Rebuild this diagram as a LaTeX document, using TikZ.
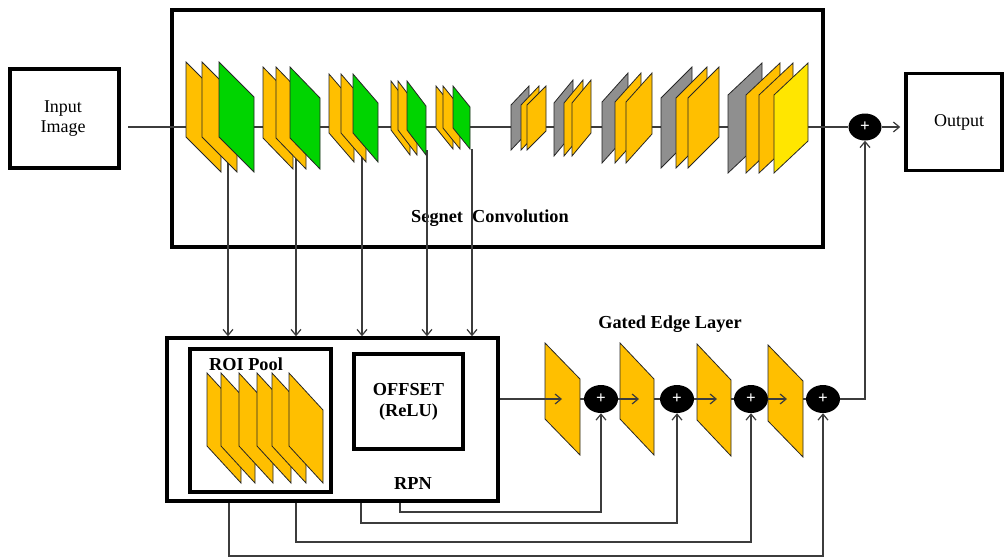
\documentclass[tikz,border=0pt]{standalone}
\usepackage{fontspec}
\setmainfont{Liberation Serif}
\usetikzlibrary{arrows.meta,shapes.geometric}
\definecolor{lorange}{HTML}{FFBF00}
\definecolor{lgreen}{HTML}{00D400}
\definecolor{lgray}{HTML}{8F8F8F}
\definecolor{lyellow}{HTML}{FFE600}
\definecolor{conncol}{HTML}{3C3C3C}
% encoder-style plane: top-left (x,y), width, height, drop
\newcommand{\encplane}[6]{\filldraw[plane,fill=#1] (#2,#3) -- ++(0,#5) -- ++(#4,#6) -- ++(0,-#5) -- cycle;}
% decoder-style plane: bottom-left (x,y), width, height, rise
\newcommand{\decplane}[6]{\filldraw[plane,fill=#1] (#2,#3) -- ++(0,-#5) -- ++(#4,-#6) -- ++(0,#5) -- cycle;}
\begin{document}
\begin{tikzpicture}[x=1pt,y=-1pt,
  box/.style={draw=black,line width=3.5pt,inner sep=0pt},
  plane/.style={draw=black!85,line width=0.8pt},
  conn/.style={draw=conncol,line width=1.2pt},
  arr/.style={conn,-{Straight Barb[length=6pt,width=10pt]}},
  plus/.style={ellipse,fill=black,text=white,inner sep=0pt,minimum width=34pt,minimum height=28pt,font=\fontsize{17}{17}\selectfont\bfseries},
  lab/.style={font=\fontsize{18}{20}\selectfont,inner sep=0pt},
  blab/.style={font=\fontsize{18.3}{21}\selectfont\bfseries,inner sep=0pt}
]
\useasboundingbox (0,0) rectangle (1006,558);

% ---- boxes and labels ----
\node[box,minimum width=109pt,minimum height=99pt] (in) at (64.5,118.5) {};
\node[lab,align=center] (intext) at (63,119) {Input\\Image};
\node[box,minimum width=651pt,minimum height=237pt] (seg) at (497.5,128.5) {};
\node[blab] (segtext) at (490,218) {Segnet\ \ Convolution};
\node[box,minimum width=96pt,minimum height=97pt] (out) at (954,121.75) {};
\node[lab] (outtext) at (959,122) {Output};
\node[plus,minimum width=33pt,minimum height=27pt] (cm) at (865,127) {+};

\node[box,minimum width=331pt,minimum height=163pt] (rpn) at (332.5,419.5) {};
\node[blab] (rpntext) at (413,483) {RPN};
\node[box,minimum width=141pt,minimum height=143pt] (roi) at (260.5,420.5) {};
\node[blab] (roitext) at (246,364) {ROI Pool};
\node[box,minimum width=109pt,minimum height=95pt] (off) at (408.5,401.5) {};
\node[blab,align=center] (offtext) at (408.5,402) {OFFSET\\(ReLU)};
\node[blab] (gatetext) at (670,324) {Gated Edge Layer};

\node[plus] (c1) at (601,399) {+};
\node[plus] (c2) at (677,399) {+};
\node[plus] (c3) at (751,399) {+};
\node[plus] (c4) at (823,399) {+};

% ---- main line ----
\coordinate (l0) at (128,127);
\draw[conn] (l0) -- (cm.west);
\draw[arr,shorten >=4pt] (cm.east) -- (out.west |- cm);

% ---- drop lines from encoder to RPN ----
\coordinate (d1) at (228,150);
\coordinate (d2) at (296,150);
\coordinate (d3) at (362,145);
\coordinate (d4) at (427,150);
\coordinate (d5) at (472,149);
\foreach \d in {d1,d2,d3,d4,d5}{\draw[arr] (\d) -- (\d |- rpn.north);}

% ---- encoder planes ----
\encplane{lorange}{186}{62}{35}{75}{35}
\encplane{lorange}{202}{62}{35}{75}{35}
\encplane{lgreen}{219}{62}{35}{75}{35}
\encplane{lorange}{263}{67}{30}{71}{31}
\encplane{lorange}{276}{67}{30}{71}{31}
\encplane{lgreen}{290}{67}{30}{71}{31}
\encplane{lorange}{329}{74}{25}{59}{29}
\encplane{lorange}{341}{74}{25}{59}{29}
\encplane{lgreen}{353}{74}{25}{59}{29}
\encplane{lorange}{391}{81}{19}{49}{25}
\encplane{lorange}{398}{81}{19}{49}{25}
\encplane{lgreen}{407}{81}{19}{49}{25}
\encplane{lorange}{436}{86}{17}{42}{21}
\encplane{lorange}{443}{86}{17}{42}{21}
\encplane{lgreen}{453}{86}{17}{42}{21}

% ---- decoder planes ----
\decplane{lgray}{511}{150}{18}{45}{19}
\decplane{lorange}{521}{150}{18}{45}{19}
\decplane{lorange}{527}{150}{19}{45}{19}
\decplane{lgray}{554}{156}{19}{53}{23}
\decplane{lorange}{564}{156}{19}{53}{23}
\decplane{lorange}{572}{156}{19}{53}{23}
\decplane{lgray}{602}{163}{26}{61}{29}
\decplane{lorange}{615}{163}{26}{61}{29}
\decplane{lorange}{626}{163}{26}{61}{29}
\decplane{lgray}{661}{168}{31}{70}{31}
\decplane{lorange}{676}{168}{31}{70}{31}
\decplane{lorange}{688}{168}{31}{70}{31}
\decplane{lgray}{728}{173}{34}{78}{32}
\decplane{lorange}{746}{173}{34}{78}{32}
\decplane{lorange}{759}{173}{34}{78}{32}
\decplane{lyellow}{774}{173}{34}{78}{32}

% ---- ROI pool planes ----
\foreach \x in {207,221,239,257,272,289}{\encplane{lorange}{\x}{373}{34}{73}{37}}

% ---- gated edge planes ----
\encplane{lorange}{545}{343}{35}{76}{36}
\encplane{lorange}{620}{343}{34}{76}{36}
\encplane{lorange}{697}{344}{34}{76}{36}
\encplane{lorange}{768}{345}{35}{76}{36}

% ---- gated connectors ----
\coordinate (g1in) at (562,399);
\coordinate (g1out) at (580,399);
\coordinate (g2in) at (639,399);
\coordinate (g2out) at (654,399);
\coordinate (g3in) at (717,399);
\coordinate (g3out) at (731,399);
\coordinate (g4in) at (787,399);
\coordinate (g4out) at (803,399);
\draw[arr] (rpn.east |- c1) -- (g1in);
\draw[conn] (g1out) -- (c1.west);
\draw[arr] (c1.east) -- (g2in);
\draw[conn] (g2out) -- (c2.west);
\draw[arr] (c2.east) -- (g3in);
\draw[conn] (g3out) -- (c3.west);
\draw[arr] (c3.east) -- (g4in);
\draw[conn] (g4out) -- (c4.west);
\draw[arr] (c4.east) -| (cm.south);

% ---- skip lines under RPN ----
\coordinate (b1) at (229,0);
\coordinate (b2) at (296,0);
\coordinate (b3) at (361,0);
\coordinate (b4) at (400,0);
\coordinate (h1) at (0,556);
\coordinate (h2) at (0,542);
\coordinate (h3) at (0,523);
\coordinate (h4) at (0,512);
\draw[arr] (b1 |- rpn.south) |- (h1 -| c4.south) -- (c4.south);
\draw[arr] (b2 |- rpn.south) |- (h2 -| c3.south) -- (c3.south);
\draw[arr] (b3 |- rpn.south) |- (h3 -| c2.south) -- (c2.south);
\draw[arr] (b4 |- rpn.south) |- (h4 -| c1.south) -- (c1.south);
\end{tikzpicture}
\end{document}
